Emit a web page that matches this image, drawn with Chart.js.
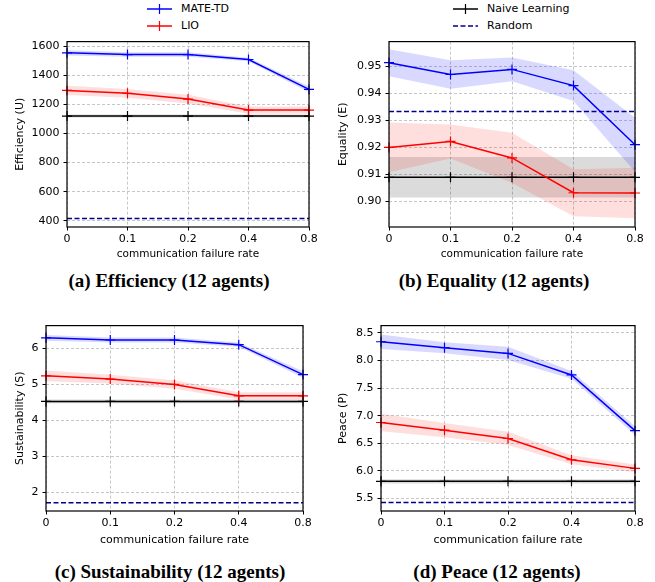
<!DOCTYPE html>
<html>
<head>
<meta charset="utf-8">
<script src="https://cdn.jsdelivr.net/npm/chart.js@4.4.0/dist/chart.umd.min.js"></script>
<style>
  body { margin: 0; background: #fff; width: 655px; height: 582px; position: relative; overflow: hidden; font-family: "DejaVu Sans", sans-serif; }
  canvas { position: absolute; }
  .cap { position: absolute; font-family: "Liberation Serif", serif; font-weight: bold; font-size: 19px; white-space: nowrap; transform: translate(-50%, -50%); }
  .leg { position: absolute; font-size: 11px; line-height: 14px; white-space: nowrap; display: flex; align-items: center; transform: translateY(-50%); }
  .leg svg { margin-right: 9px; }
</style>
</head>
<body>
<div class="leg" style="left:147px;top:9px"><svg width="25" height="12"><line x1="0" y1="6" x2="25" y2="6" stroke="#0000ff" stroke-width="1.5"/><line x1="12.5" y1="1" x2="12.5" y2="11" stroke="#0000ff" stroke-width="1.2"/></svg>MATE-TD</div>
<div class="leg" style="left:147px;top:26px"><svg width="25" height="12"><line x1="0" y1="6" x2="25" y2="6" stroke="#ff0000" stroke-width="1.5"/><line x1="12.5" y1="1" x2="12.5" y2="11" stroke="#ff0000" stroke-width="1.2"/></svg>LIO</div>
<div class="leg" style="left:453px;top:9px"><svg width="25" height="12"><line x1="0" y1="6" x2="25" y2="6" stroke="#000" stroke-width="1.5"/><line x1="12.5" y1="1" x2="12.5" y2="11" stroke="#000" stroke-width="1.2"/></svg>Naive Learning</div>
<div class="leg" style="left:453px;top:26px"><svg width="25" height="12"><line x1="0" y1="6" x2="25" y2="6" stroke="#00008b" stroke-width="1.5" stroke-dasharray="5,2.5"/></svg>Random</div>

<canvas id="cA"></canvas>
<canvas id="cB"></canvas>
<canvas id="cC"></canvas>
<canvas id="cD"></canvas>

<div class="cap" style="left:169px;top:281px">(a) Efficiency (12 agents)</div>
<div class="cap" style="left:494px;top:281px">(b) Equality (12 agents)</div>
<div class="cap" style="left:170px;top:572px">(c) Sustainability (12 agents)</div>
<div class="cap" style="left:497px;top:572px">(d) Peace (12 agents)</div>

<script>
// x categories (communication failure rate)
const rates = ["0", "0.1", "0.2", "0.4", "0.8"];

// (a) Efficiency
const effMate = [1555, 1543, 1543, 1509, 1303];
const effMateErr = [18, 15, 15, 12, 20];
const effLio = [1296, 1276, 1237, 1161, 1161];
const effLioErr = [32, 30, 30, 25, 25];
const effNaive = [1120, 1120, 1120, 1120, 1120];
const effNaiveErr = [10, 10, 10, 10, 10];
const effRandom = [415, 415, 415, 415, 415];
const effTicks = [400, 600, 800, 1000, 1200, 1400, 1600];

// (b) Equality
const eqMate = [0.9514, 0.9470, 0.9489, 0.9429, 0.9210];
const eqMateErr = [0.0050, 0.0053, 0.0044, 0.0057, 0.0100];
const eqLio = [0.9200, 0.9222, 0.9161, 0.9032, 0.9031];
const eqLioErr = [0.0092, 0.0063, 0.0093, 0.0087, 0.0094];
const eqNaive = [0.9089, 0.9089, 0.9089, 0.9089, 0.9089];
const eqNaiveErr = [0.0075, 0.0075, 0.0075, 0.0075, 0.0075];
const eqRandom = [0.9333, 0.9333, 0.9333, 0.9333, 0.9333];
const eqTicks = [0.90, 0.91, 0.92, 0.93, 0.94, 0.95];

// (c) Sustainability
const susMate = [6.30, 6.24, 6.24, 6.11, 5.28];
const susMateErr = [0.08, 0.07, 0.07, 0.06, 0.09];
const susLio = [5.245, 5.154, 5.005, 4.69, 4.69];
const susLioErr = [0.15, 0.12, 0.12, 0.10, 0.10];
const susNaive = [4.535, 4.535, 4.535, 4.535, 4.535];
const susNaiveErr = [0.05, 0.05, 0.05, 0.05, 0.05];
const susRandom = [1.72, 1.72, 1.72, 1.72, 1.72];
const susTicks = [2, 3, 4, 5, 6];

// (d) Peace
const peaceMate = [8.338, 8.23, 8.127, 7.737, 6.73];
const peaceMateErr = [0.13, 0.10, 0.12, 0.07, 0.08];
const peaceLio = [6.877, 6.738, 6.588, 6.203, 6.047];
const peaceLioErr = [0.16, 0.13, 0.12, 0.08, 0.07];
const peaceNaive = [5.812, 5.812, 5.812, 5.812, 5.812];
const peaceNaiveErr = [0.04, 0.04, 0.04, 0.04, 0.04];
const peaceRandom = [5.428, 5.428, 5.428, 5.428, 5.428];
const peaceTicks = [5.5, 6.0, 6.5, 7.0, 7.5, 8.0, 8.5];

const add = (a, b, s) => a.map((v, i) => v + s * b[i]);

// black box around the plot area, like matplotlib spines
const framePlugin = {
    id: "frame",
    afterDraw(chart) {
        const { ctx, chartArea: a } = chart;
        ctx.save();
        ctx.strokeStyle = "#000";
        ctx.lineWidth = 1.2;
        ctx.strokeRect(a.left, a.top, a.right - a.left, a.bottom - a.top);
        ctx.restore();
    }
};

function lineSet(label, data, color, dashed) {
    return {
        label, data,
        borderColor: color,
        backgroundColor: color,
        borderWidth: 1.5,
        borderDash: dashed ? [5, 2.5] : [],
        pointStyle: "cross",
        pointRadius: dashed ? 0 : 5,
        pointBorderWidth: 1.2,
        fill: false,
        tension: 0
    };
}

function bandSets(mean, err, fillColor) {
    return [
        { data: add(mean, err, 1), borderWidth: 0, pointRadius: 0, fill: "+1", backgroundColor: fillColor },
        { data: add(mean, err, -1), borderWidth: 0, pointRadius: 0, fill: false }
    ];
}

function makePanel(id, box, s) {
    const cv = document.getElementById(id);
    const L = box.canvasLeft, T = box.top - 10;
    const W = box.right + 12 - L, H = box.bottom + 38 - T;
    cv.style.left = L + "px";
    cv.style.top = T + "px";
    cv.width = W; cv.height = H;
    cv.style.width = W + "px"; cv.style.height = H + "px";

    const fmt = s.decimals;
    const gridOpts = { color: "#b8b8b8", lineWidth: 0.8, tickColor: "#000", tickLength: 3.5, tickWidth: 1 };
    return new Chart(cv.getContext("2d"), {
        type: "line",
        data: {
            labels: rates,
            datasets: [
                lineSet("MATE-TD", s.mate, "#0000ff"),
                lineSet("LIO", s.lio, "#ff0000"),
                lineSet("Naive Learning", s.naive, "#000000"),
                lineSet("Random", s.random, "#00008b", true),
                ...bandSets(s.mate, s.mateErr, "rgba(0,0,255,0.15)"),
                ...bandSets(s.lio, s.lioErr, "rgba(255,0,0,0.13)"),
                ...bandSets(s.naive, s.naiveErr, "rgba(0,0,0,0.14)")
            ]
        },
        options: {
            responsive: false,
            animation: false,
            layout: { padding: { top: 10, right: 12, left: 0, bottom: 0 } },
            plugins: { legend: { display: false }, tooltip: { enabled: false } },
            scales: {
                x: {
                    type: "category",
                    offset: false,
                    grid: gridOpts,
                    border: { display: false, dash: [3, 2] },
                    ticks: { color: "#000", font: { family: "DejaVu Sans", size: 11 }, padding: 2, maxRotation: 0 },
                    title: { display: true, text: "communication failure rate", color: "#000",
                             font: { family: "DejaVu Sans", size: box.xTitleSize }, padding: { top: 0, bottom: box.xTitlePad } },
                    afterFit(scale) { scale.height = 38; }
                },
                y: {
                    min: s.min, max: s.max,
                    grid: gridOpts,
                    border: { display: false, dash: [3, 2] },
                    ticks: { color: "#000", font: { family: "DejaVu Sans", size: 11 }, padding: 4,
                             callback: v => fmt === 0 ? String(v) : Number(v).toFixed(fmt) },
                    afterBuildTicks(scale) { scale.ticks = s.ticks.map(v => ({ value: v })); },
                    title: { display: true, text: s.yTitle, color: "#000",
                             font: { family: "DejaVu Sans", size: 11 }, padding: { top: box.yTitlePad, bottom: 0 } },
                    afterFit(scale) { scale.width = box.left - L; }
                }
            }
        },
        plugins: [framePlugin]
    });
}

makePanel("cA", { canvasLeft: 0, left: 67, right: 309, top: 41, bottom: 227, yTitlePad: 14, xTitlePad: 4, xTitleSize: 10.5 }, {
    mate: effMate, mateErr: effMateErr, lio: effLio, lioErr: effLioErr,
    naive: effNaive, naiveErr: effNaiveErr, random: effRandom,
    min: 357, max: 1632, ticks: effTicks, decimals: 0, yTitle: "Efficiency (U)"
});

makePanel("cB", { canvasLeft: 330, left: 389, right: 635, top: 41, bottom: 227, yTitlePad: 7, xTitlePad: 4, xTitleSize: 10.5 }, {
    mate: eqMate, mateErr: eqMateErr, lio: eqLio, lioErr: eqLioErr,
    naive: eqNaive, naiveErr: eqNaiveErr, random: eqRandom,
    min: 0.8905, max: 0.9592, ticks: eqTicks, decimals: 2, yTitle: "Equality (E)"
});

makePanel("cC", { canvasLeft: 0, left: 46, right: 303, top: 325, bottom: 511, yTitlePad: 14, xTitlePad: 2.5, xTitleSize: 11 }, {
    mate: susMate, mateErr: susMateErr, lio: susLio, lioErr: susLioErr,
    naive: susNaive, naiveErr: susNaiveErr, random: susRandom,
    min: 1.49, max: 6.64, ticks: susTicks, decimals: 0, yTitle: "Sustainability (S)"
});

makePanel("cD", { canvasLeft: 330, left: 381, right: 635, top: 325, bottom: 511, yTitlePad: 7, xTitlePad: 2.5, xTitleSize: 11 }, {
    mate: peaceMate, mateErr: peaceMateErr, lio: peaceLio, lioErr: peaceLioErr,
    naive: peaceNaive, naiveErr: peaceNaiveErr, random: peaceRandom,
    min: 5.276, max: 8.63, ticks: peaceTicks, decimals: 1, yTitle: "Peace (P)"
});
</script>
</body>
</html>
